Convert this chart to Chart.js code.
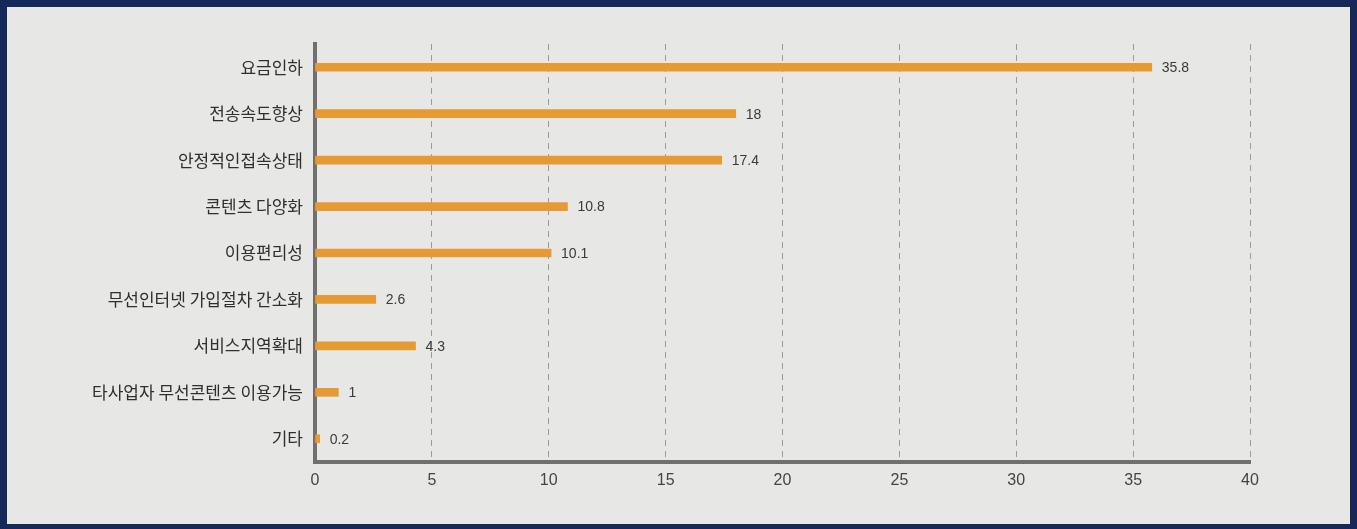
<!DOCTYPE html>
<html>
<head>
<meta charset="utf-8">
<script src="https://cdn.jsdelivr.net/npm/chart.js@4"></script>
<style>
  html, body { margin: 0; padding: 0; width: 1357px; height: 529px; overflow: hidden; background: #16285a; }
  #frame { position: absolute; left: 7px; top: 7px; width: 1343px; height: 517px; background: #e7e8e6; }
  #wrap { position: absolute; left: 0; top: 0; width: 1357px; height: 529px; }
</style>
</head>
<body>
<div id="frame"></div>
<div id="wrap"><canvas id="c" width="1357" height="529"></canvas></div>
<script>
const categories = ['요금인하', '전송속도향상', '안정적인접속상태', '콘텐츠 다양화', '이용편리성', '무선인터넷 가입절차 간소화', '서비스지역확대', '타사업자 무선콘텐츠 이용가능', '기타'];
const values = [35.8, 18, 17.4, 10.8, 10.1, 2.6, 4.3, 1, 0.2];
const valueLabels = ['35.8', '18', '17.4', '10.8', '10.1', '2.6', '4.3', '1', '0.2'];
const xTicks = [0, 5, 10, 15, 20, 25, 30, 35, 40];

const numFont = '"Liberation Sans", Arial, sans-serif';

const valueLabelPlugin = {
  id: 'valueLabels',
  afterDatasetsDraw(chart) {
    const ctx = chart.ctx;
    const meta = chart.getDatasetMeta(0);
    ctx.save();
    ctx.font = '14px ' + numFont;
    ctx.fillStyle = '#3a3a3a';
    ctx.textAlign = 'left';
    ctx.textBaseline = 'middle';
    meta.data.forEach((bar, i) => {
      ctx.fillText(valueLabels[i], bar.x + 10, bar.y + 1);
    });
    ctx.restore();
  }
};

new Chart(document.getElementById('c'), {
  type: 'bar',
  data: {
    labels: categories,
    datasets: [{
      data: values,
      backgroundColor: '#e59a33',
      borderWidth: 0,
      barThickness: 8
    }]
  },
  options: {
    indexAxis: 'y',
    responsive: false,
    animation: false,
    layout: { padding: { left: 0, top: 44, right: 107, bottom: 0 } },
    plugins: { legend: { display: false }, tooltip: { enabled: false } },
    scales: {
      x: {
        min: 0, max: 40,
        afterBuildTicks(scale) { scale.ticks = xTicks.map(v => ({ value: v })); },
        afterFit(scale) { scale.height = 67; },
        grid: { display: true, color: '#9a9a9a', lineWidth: 1, drawTicks: false },
        border: { display: true, color: '#6f706f', width: 4, dash: [6, 5] },
        ticks: { padding: 9, color: '#444', font: { family: numFont, size: 16 } }
      },
      y: {
        afterFit(scale) { scale.width = 315; },
        grid: { display: false, drawTicks: false },
        border: { display: true, color: '#6f706f', width: 4 },
        ticks: { padding: 12, color: '#2f2f2f', font: { family: '"Noto Sans CJK KR", sans-serif', size: 17 } }
      }
    }
  },
  plugins: [valueLabelPlugin]
});
</script>
</body>
</html>
